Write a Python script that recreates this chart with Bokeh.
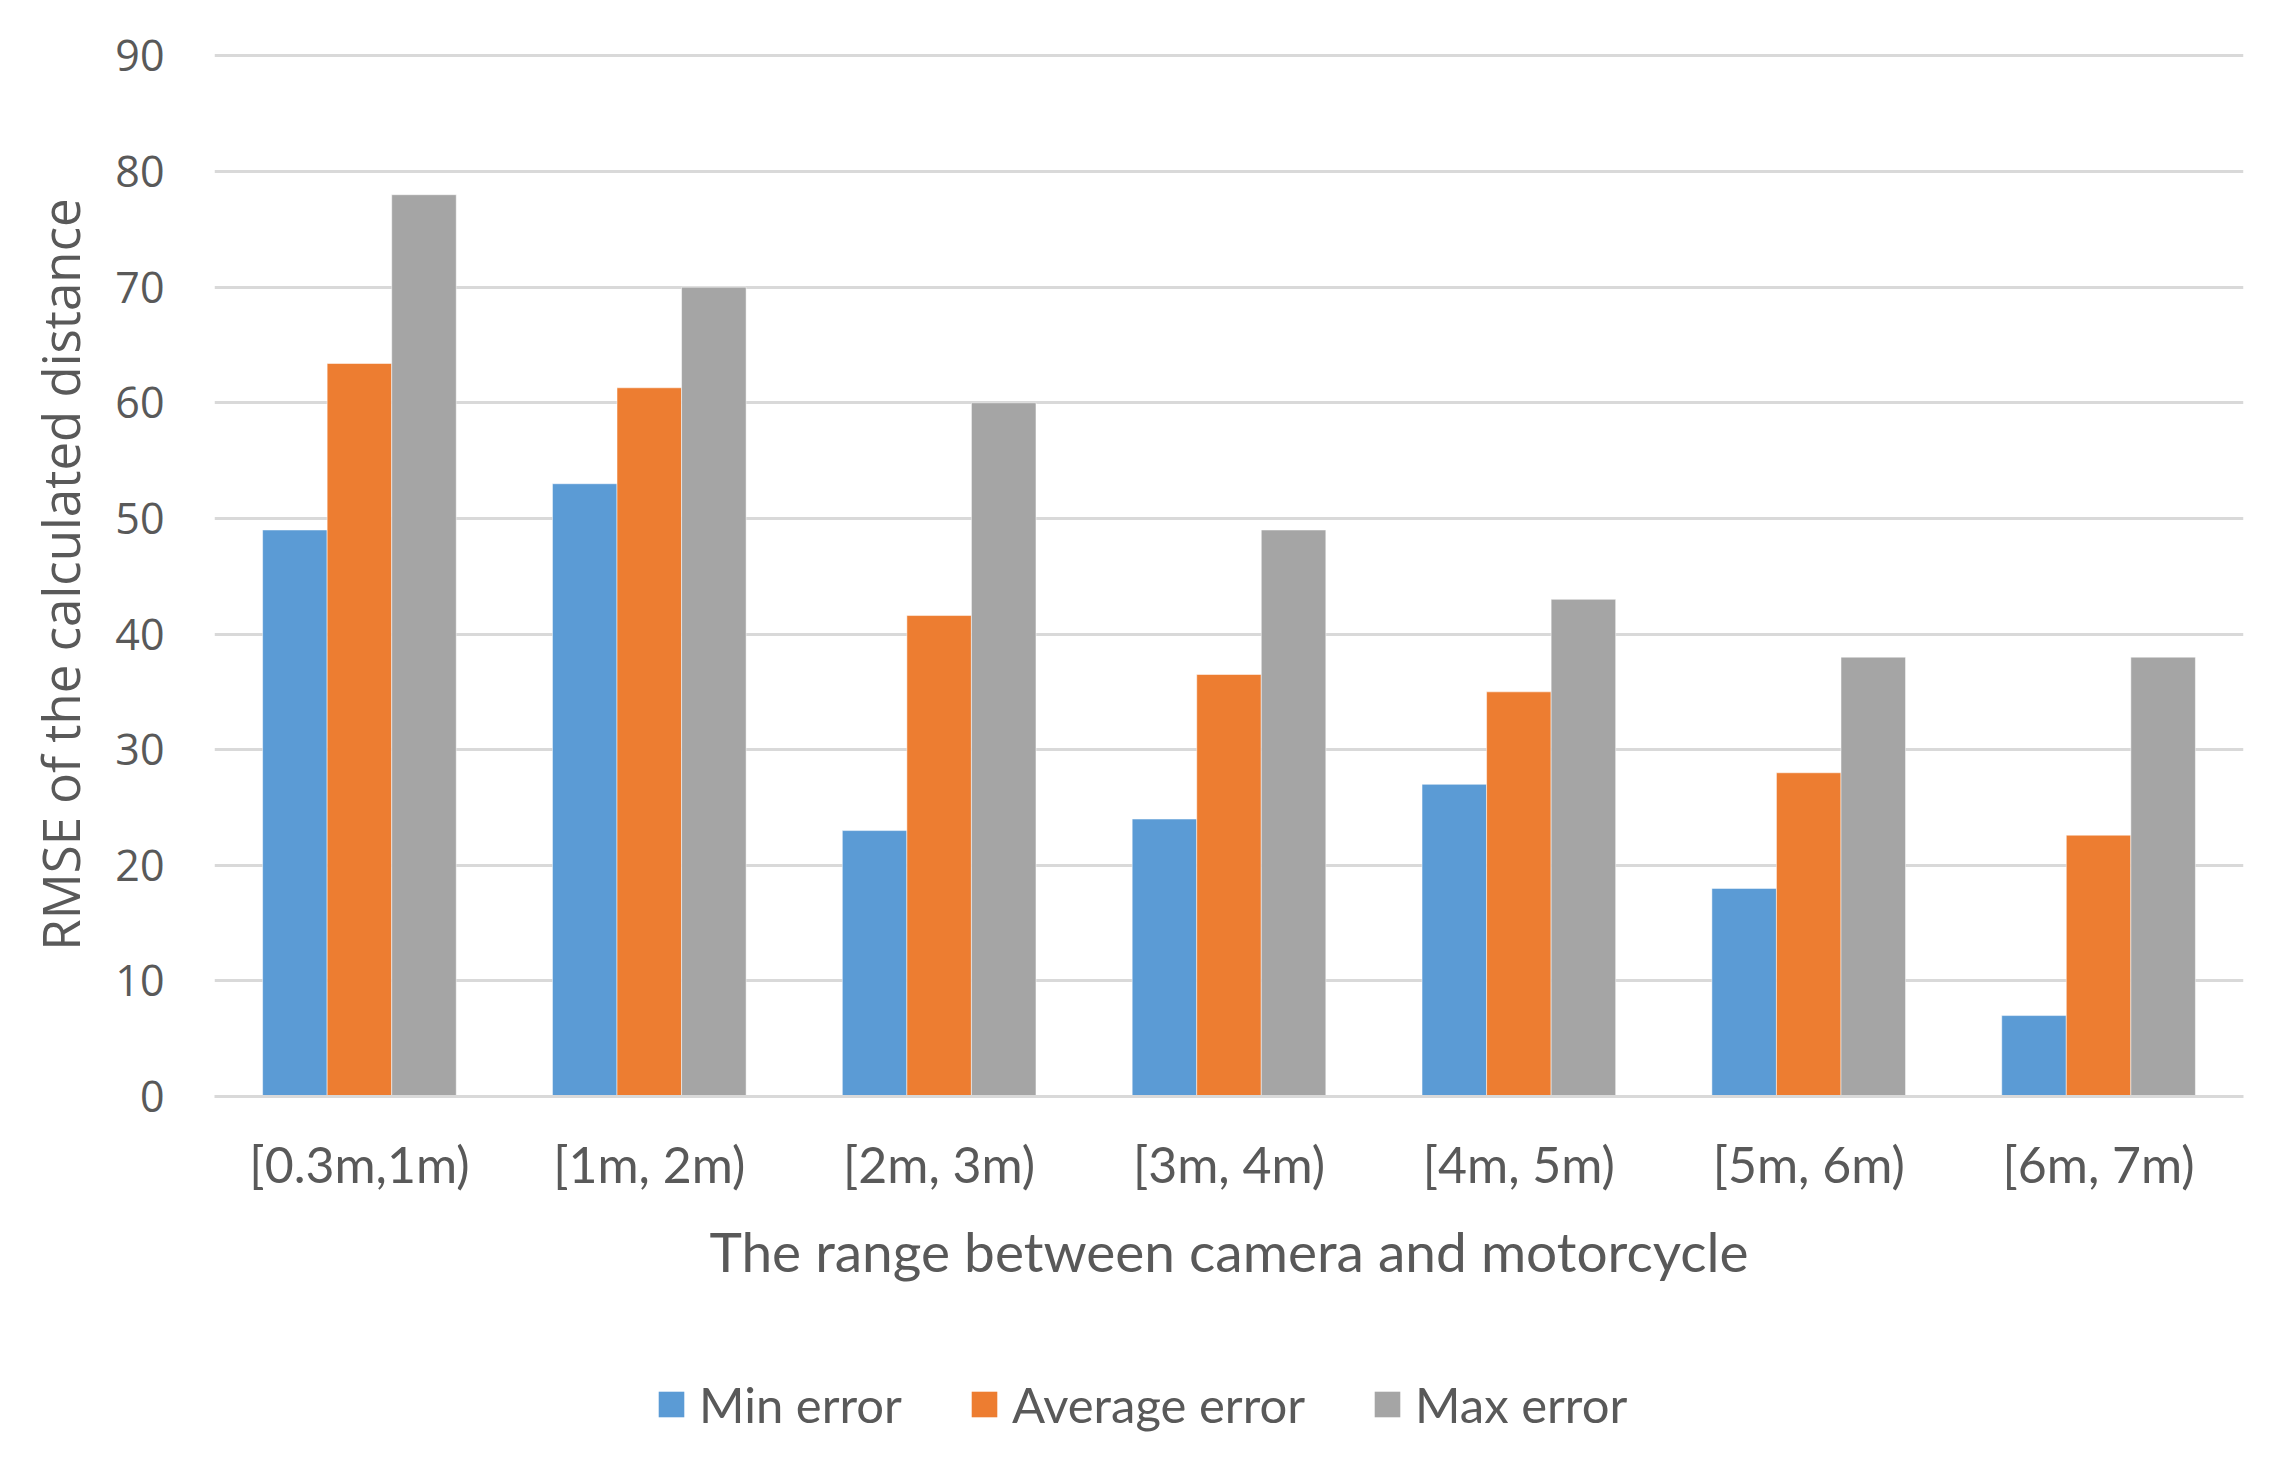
from bokeh.plotting import figure
from bokeh.layouts import column
from bokeh.models import ColumnDataSource, Legend, LegendItem, FixedTicker, Range1d, FactorRange
from bokeh.transform import dodge
from bokeh.embed import file_html
from bokeh.resources import INLINE

categories = ["[0.3m,1m)", "[1m, 2m)", "[2m, 3m)", "[3m, 4m)", "[4m, 5m)", "[5m, 6m)", "[6m, 7m)"]
min_error = [49, 53, 23, 24, 27, 18, 7]
average_error = [63.4, 61.3, 41.6, 36.5, 35, 28, 22.6]
max_error = [78, 70, 60, 49, 43, 38, 38]
y_ticks = [0, 10, 20, 30, 40, 50, 60, 70, 80, 90]

series_names = ["Min error", "Average error", "Max error"]
colors = ["#5B9BD5", "#ED7D31", "#A5A5A5"]

src = ColumnDataSource(dict(cat=categories, mn=min_error, av=average_error, mx=max_error))

W = 2268
H1, H2 = 1310, 150
p = figure(width=W, height=H1, x_range=FactorRange(*categories), y_range=Range1d(0, 90.3),
           output_backend="svg", toolbar_location=None,
           min_border_left=214, min_border_right=25, min_border_top=52, min_border_bottom=H1 - 1096)
p.outline_line_color = None
p.background_fill_color = "white"
p.border_fill_color = "white"

bw = 0.2227
bar_kw = dict(width=bw, source=src, line_color="white", line_alpha=0.5, line_width=1)
r1 = p.vbar(x=dodge("cat", -bw, range=p.x_range), top="mn", fill_color=colors[0], **bar_kw)
r2 = p.vbar(x=dodge("cat", 0, range=p.x_range), top="av", fill_color=colors[1], **bar_kw)
r3 = p.vbar(x=dodge("cat", bw, range=p.x_range), top="mx", fill_color=colors[2], **bar_kw)

text_col = "#595959"
grid_col = "#D9D9D9"

p.xgrid.grid_line_color = None
p.ygrid.grid_line_color = grid_col
p.ygrid.grid_line_width = 3
p.ygrid.ticker = FixedTicker(ticks=y_ticks)

yax = p.yaxis[0]
yax.ticker = FixedTicker(ticks=y_ticks)
yax.axis_line_color = None
yax.major_tick_line_color = None
yax.minor_tick_line_color = None
yax.major_label_text_font = "Open Sans"
yax.major_label_text_font_size = "43px"
yax.major_label_text_color = text_col
yax.major_label_standoff = 44
yax.axis_label = "RMSE of the calculated distance"
yax.axis_label_text_font = "Open Sans"
yax.axis_label_text_font_size = "51px"
yax.axis_label_text_font_style = "normal"
yax.axis_label_text_color = text_col
yax.axis_label_standoff = 17

xax = p.xaxis[0]
xax.axis_line_color = grid_col
xax.axis_line_width = 3
xax.major_tick_line_color = None
xax.minor_tick_line_color = None
xax.major_label_text_font = "Lato"
xax.major_label_text_font_size = "50px"
xax.major_label_text_color = text_col
xax.major_label_standoff = 31
xax.axis_label = "The range between camera and motorcycle"
xax.axis_label_text_font = "Lato"
xax.axis_label_text_font_size = "55px"
xax.axis_label_text_font_style = "normal"
xax.axis_label_text_color = text_col
xax.axis_label_standoff = 21

# legend strip below the chart (dummy bars lie outside its visible range)
p2 = figure(width=W, height=H2, output_backend="svg", toolbar_location=None,
            x_axis_type=None, y_axis_type=None, min_border=0,
            x_range=Range1d(0, 1), y_range=Range1d(0, 1))
p2.outline_line_color = None
p2.grid.visible = False
dummy = dict(x=[-10], top=[-10])
l1 = p2.vbar(x="x", top="top", width=0.1, source=ColumnDataSource(dummy), fill_color=colors[0], line_color=None)
l2 = p2.vbar(x="x", top="top", width=0.1, source=ColumnDataSource(dummy), fill_color=colors[1], line_color=None)
l3 = p2.vbar(x="x", top="top", width=0.1, source=ColumnDataSource(dummy), fill_color=colors[2], line_color=None)

legend = Legend(items=[LegendItem(label=series_names[0], renderers=[l1]),
                       LegendItem(label=series_names[1], renderers=[l2]),
                       LegendItem(label=series_names[2], renderers=[l3])],
                orientation="horizontal", location=(441, 27))
legend.border_line_color = None
legend.background_fill_alpha = 0
legend.padding = 0
legend.margin = 0
legend.spacing = 66
legend.glyph_width = 32
legend.glyph_height = 32
legend.label_standoff = 12
legend.label_text_font = "Lato"
legend.label_text_font_size = "49px"
legend.label_text_color = text_col
legend.label_height = 32
p2.add_layout(legend, "center")

open("out.html", "w").write(file_html(column(p, p2), INLINE))
